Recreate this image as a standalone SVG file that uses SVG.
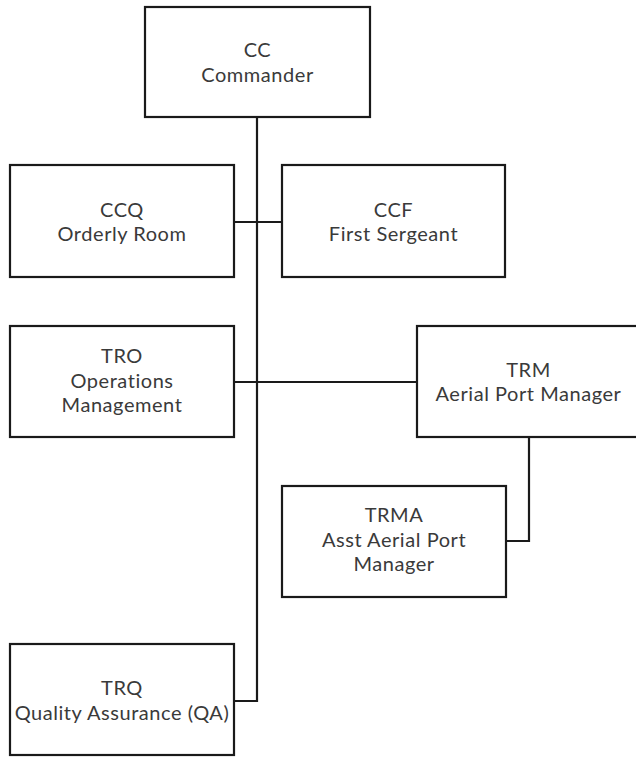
<svg xmlns="http://www.w3.org/2000/svg" width="636" height="757" viewBox="0 0 636 757">
<style>
.box{fill:#fff;stroke:#1a1a1a;stroke-width:2.2}
.lbl{font-family:Lato,"Open Sans",sans-serif;font-size:20px;letter-spacing:0.55px;fill:#3a3a3a;text-anchor:middle}
.conn{fill:none;stroke:#1a1a1a;stroke-width:2.2}
</style>
<rect width="636" height="757" fill="#fff"/>
<g id="connectors">
<path class="conn" d="M257,117 V701 H234"/>
<path class="conn" d="M234,222 H282"/>
<path class="conn" d="M234,382 H417"/>
<path class="conn" d="M529,437 V541 H506"/>
</g>
<g id="cc"><rect class="box" x="145" y="7" width="225" height="110"/>
<text class="lbl" x="257.5" y="57">CC</text><text class="lbl" x="257.5" y="82">Commander</text></g>
<g id="ccq"><rect class="box" x="10" y="165" width="224" height="112"/>
<text class="lbl" x="122" y="216.5">CCQ</text><text class="lbl" x="122" y="241">Orderly Room</text></g>
<g id="ccf"><rect class="box" x="282" y="165" width="223" height="112"/>
<text class="lbl" x="393.5" y="216.5">CCF</text><text class="lbl" x="393.5" y="241">First Sergeant</text></g>
<g id="tro"><rect class="box" x="10" y="326" width="224" height="111"/>
<text class="lbl" x="122" y="363">TRO</text><text class="lbl" x="122" y="387.5">Operations</text><text class="lbl" x="122" y="412">Management</text></g>
<g id="trm"><rect class="box" x="417" y="326" width="224" height="111"/>
<text class="lbl" x="528.5" y="376.5">TRM</text><text class="lbl" x="528.5" y="401">Aerial Port Manager</text></g>
<g id="trma"><rect class="box" x="282" y="486" width="224" height="111"/>
<text class="lbl" x="394" y="522">TRMA</text><text class="lbl" x="394" y="546.5">Asst Aerial Port</text><text class="lbl" x="394" y="571">Manager</text></g>
<g id="trq"><rect class="box" x="10" y="644" width="224" height="111"/>
<text class="lbl" x="122" y="695">TRQ</text><text class="lbl" x="122" y="719.5">Quality Assurance (QA)</text></g>
</svg>
